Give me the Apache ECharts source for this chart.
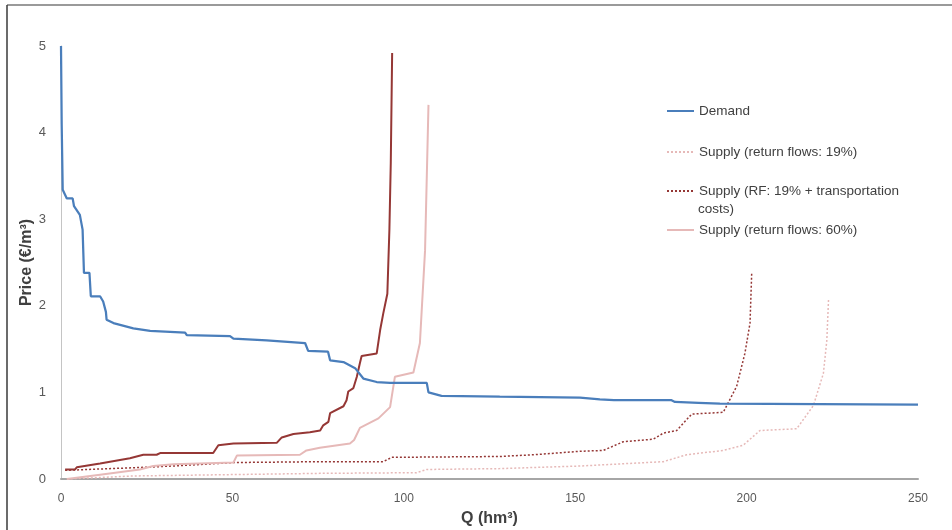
<!DOCTYPE html>
<html lang="en" style="height: 100%">

<head>
  <meta charset="utf-8">
</head>

<body style="height: 100%; margin: 0; background: #fff">
  <div id="container" style="width: 952px; height: 530px"></div>

  <script type="text/javascript" src="https://cdn.jsdelivr.net/npm/echarts@6.0.0/dist/echarts.min.js"></script>

  <script type="text/javascript">
    // tick labels
    var xTicks = [0, 50, 100, 150, 200, 250];
    var yTicks = [0, 1, 2, 3, 4, 5];

    // Demand (blue)
    var demandQ = [0, 0.2, 0.5, 1.7, 3.4, 3.8, 5.5, 6.3, 6.7, 8.3, 8.7, 11.4, 12.3, 13.1, 13.3, 15.3, 21.1, 26, 36.2, 36.7, 49.3, 50.3, 60, 71.2, 72.1, 77.9, 78.5, 82.4, 85.8, 88.2, 92.1, 96, 106.7, 107.2, 111, 128, 151.4, 157.2, 161.3, 178.1, 179.1, 186, 192.2, 250];
    var demandP = [5.0, 4.1, 3.34, 3.24, 3.24, 3.15, 3.05, 2.88, 2.38, 2.38, 2.11, 2.11, 2.05, 1.93, 1.84, 1.80, 1.74, 1.71, 1.69, 1.66, 1.65, 1.62, 1.60, 1.57, 1.48, 1.47, 1.37, 1.35, 1.28, 1.16, 1.12, 1.11, 1.11, 1.0, 0.96, 0.95, 0.94, 0.92, 0.91, 0.91, 0.89, 0.88, 0.87, 0.86];

    // Supply, solid dark red (not in legend)
    var supplyTcQ = [1.2, 4.1, 4.6, 11.4, 20.1, 24, 27.9, 28.9, 44.4, 45.9, 50.3, 63, 64.4, 67.8, 72.6, 75.6, 76.5, 78, 78.5, 82.4, 83.3, 83.8, 85.3, 86.3, 87.2, 87.7, 92.1, 93.1, 94, 95.2, 95.8, 96.2, 96.6];
    var supplyTcP = [0.11, 0.11, 0.135, 0.18, 0.24, 0.28, 0.28, 0.30, 0.30, 0.39, 0.41, 0.42, 0.48, 0.52, 0.54, 0.56, 0.62, 0.66, 0.76, 0.84, 0.91, 1.01, 1.05, 1.18, 1.34, 1.42, 1.45, 1.72, 1.91, 2.14, 2.88, 3.65, 4.92];

    // Supply (return flows: 60%)
    var supply60Q = [1.7, 11.4, 23, 26.9, 32.8, 50.3, 51.3, 69.7, 71.6, 75.5, 84.3, 85.5, 87.2, 92.6, 96, 97.4, 102.8, 104.7, 106.2, 107.2];
    var supply60P = [0, 0.05, 0.11, 0.15, 0.17, 0.19, 0.27, 0.28, 0.33, 0.36, 0.41, 0.45, 0.59, 0.70, 0.83, 1.18, 1.23, 1.57, 2.64, 4.32];

    // Supply (RF: 19% + transportation costs)
    var supplyRfQ = [1.2, 21.1, 32.8, 50.3, 75.5, 94, 96.5, 128, 138, 151.4, 158.2, 164, 172.8, 175.7, 179.6, 184, 193.2, 197.1, 199.5, 201, 201.5];
    var supplyRfP = [0.10, 0.13, 0.15, 0.19, 0.20, 0.20, 0.25, 0.26, 0.28, 0.32, 0.33, 0.43, 0.46, 0.53, 0.56, 0.75, 0.77, 1.07, 1.45, 1.80, 2.39];

    // Supply (return flows: 19%)
    var supply19Q = [1.7, 21, 75.5, 103.7, 106.7, 128, 151.4, 175.7, 182.5, 193.2, 199, 203.9, 214.6, 219.5, 222.4, 223.4, 223.9];
    var supply19P = [0, 0.035, 0.065, 0.073, 0.11, 0.12, 0.15, 0.20, 0.28, 0.33, 0.39, 0.56, 0.58, 0.85, 1.22, 1.60, 2.07];

    function pairs(q, p) {
      return q.map(function (v, i) { return [v, p[i]]; });
    }

    var dom = document.getElementById('container');
    var myChart = echarts.init(dom, null, { renderer: 'canvas' });

    var font = 'Liberation Sans';
    var legendText = { color: '#404040', fontSize: 13.5, fontFamily: font };
    var legendBase = { left: 666, padding: 0, itemWidth: 27, itemHeight: 14, itemStyle: { opacity: 0 }, textStyle: legendText };

    var option = {
      animation: false,
      backgroundColor: '#fff',
      grid: { left: 61, right: 34, top: 46, bottom: 51, outerBoundsMode: 'none', containLabel: false },
      graphic: [
        { type: 'line', shape: { x1: 7, y1: 5, x2: 952, y2: 5 }, style: { stroke: '#9a9a9a', lineWidth: 2 } },
        { type: 'line', shape: { x1: 7, y1: 5, x2: 7, y2: 530 }, style: { stroke: '#3a3a3a', lineWidth: 1.5 } },
        { type: 'text', left: 698, top: 202, style: { text: 'costs)', fill: '#404040', fontSize: 13.5, fontFamily: font } }
      ],
      legend: [
        Object.assign({ data: ['Demand'], top: 104 }, legendBase),
        Object.assign({ data: ['Supply (return flows: 19%)'], top: 145 }, legendBase),
        Object.assign({
          data: ['Supply (RF: 19% + transportation costs)'], top: 184,
          formatter: function () { return 'Supply (RF: 19% + transportation'; }
        }, legendBase),
        Object.assign({ data: ['Supply (return flows: 60%)'], top: 223 }, legendBase)
      ],
      xAxis: {
        type: 'value',
        min: xTicks[0],
        max: xTicks[xTicks.length - 1],
        interval: 50,
        name: 'Q (hm³)',
        nameLocation: 'middle',
        nameGap: 32,
        nameMoveOverlap: false,
        nameTextStyle: { fontWeight: 'bold', fontSize: 16, color: '#404040', fontFamily: font },
        axisLine: { show: true, lineStyle: { color: '#a6a6a6', width: 2 } },
        axisTick: { show: false },
        splitLine: { show: false },
        axisLabel: { margin: 14, color: '#595959', fontSize: 12, fontFamily: font }
      },
      yAxis: {
        type: 'value',
        min: yTicks[0],
        max: yTicks[yTicks.length - 1],
        interval: 1,
        name: 'Price (€/m³)',
        nameLocation: 'middle',
        nameGap: 26,
        nameMoveOverlap: false,
        nameTextStyle: { fontWeight: 'bold', fontSize: 16, color: '#404040', fontFamily: font },
        axisLine: { show: true, lineStyle: { color: '#c4c4c4', width: 1 } },
        axisTick: { show: false },
        splitLine: { show: false },
        axisLabel: { margin: 15, color: '#595959', fontSize: 13, fontFamily: font }
      },
      series: [
        {
          name: 'Supply (return flows: 19%)',
          type: 'line',
          symbol: 'none',
          data: pairs(supply19Q, supply19P),
          itemStyle: { color: '#e6b9b8' },
          lineStyle: { color: '#e6b9b8', width: 1.5, type: [2, 2] }
        },
        {
          name: 'Supply (RF: 19% + transportation costs)',
          type: 'line',
          symbol: 'none',
          data: pairs(supplyRfQ, supplyRfP),
          itemStyle: { color: '#953735' },
          lineStyle: { color: '#953735', width: 1.5, type: [2, 2] }
        },
        {
          name: 'Supply (return flows: 60%)',
          type: 'line',
          symbol: 'none',
          data: pairs(supply60Q, supply60P),
          itemStyle: { color: '#e6b9b8' },
          lineStyle: { color: '#e6b9b8', width: 2 }
        },
        {
          name: 'Supply (RF: 60% + transportation costs)',
          type: 'line',
          symbol: 'none',
          data: pairs(supplyTcQ, supplyTcP),
          itemStyle: { color: '#953735' },
          lineStyle: { color: '#953735', width: 2 }
        },
        {
          name: 'Demand',
          type: 'line',
          symbol: 'none',
          data: pairs(demandQ, demandP),
          itemStyle: { color: '#4a7ebb' },
          lineStyle: { color: '#4a7ebb', width: 2.25 }
        }
      ]
    };

    myChart.setOption(option);
    window.addEventListener('resize', myChart.resize);
  </script>
</body>

</html>
